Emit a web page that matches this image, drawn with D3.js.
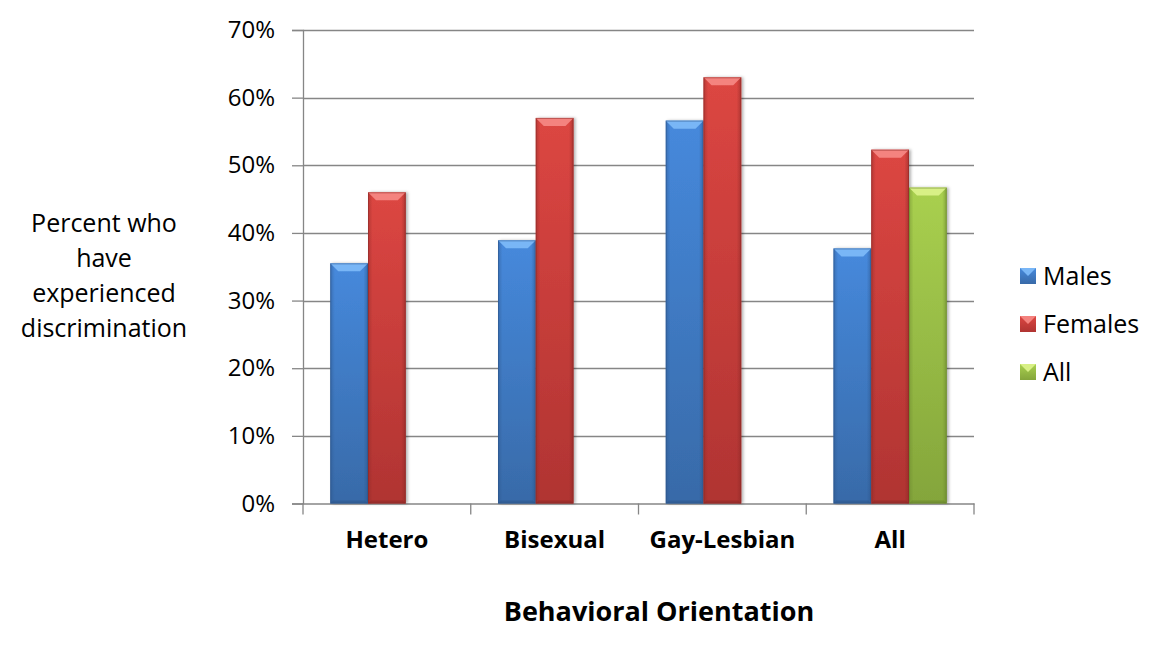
<!DOCTYPE html>
<html>
<head>
<meta charset="utf-8">
<script src="https://cdn.jsdelivr.net/npm/d3@7"></script>
<style>
body { margin: 0; background: #fff; }
svg { font-family: "Open Sans", "Noto Sans", sans-serif; }
</style>
</head>
<body>
<svg width="1162" height="650"></svg>
<script>
const categories = ["Hetero", "Bisexual", "Gay-Lesbian", "All"];
const seriesNames = ["Males", "Females", "All"];
const males = [0.355, 0.389, 0.566, 0.377];
const females = [0.46, 0.57, 0.63, 0.523];
const allValues = [null, null, null, 0.467];
const yTicks = [0, 0.1, 0.2, 0.3, 0.4, 0.5, 0.6, 0.7];

const svg = d3.select("svg");
const plotLeft = 303, plotRight = 974, plotTop = 30, plotBottom = 503.5;

const x0 = d3.scaleBand().domain(categories).range([plotLeft, plotRight])
  .paddingInner(0.325).paddingOuter(0.1625);
const x1 = d3.scaleBand().domain(seriesNames).range([0, x0.bandwidth()]);
const y = d3.scaleLinear().domain([0, 0.7]).range([plotBottom, plotTop]);

// colours: [top, bottom, bevel, edge]
const colors = {
  Males: ["#4689dc", "#386aa8", "#79b6f6", "#2c5488"],
  Females: ["#dc4642", "#b03432", "#f4837f", "#8a2826"],
  All: ["#a9d04f", "#84a53b", "#d8f086", "#66822c"]
};

const defs = svg.append("defs");
seriesNames.forEach((s, i) => {
  const g = defs.append("linearGradient").attr("id", "g" + i)
    .attr("x1", 0).attr("y1", 0).attr("x2", 0).attr("y2", 1);
  g.append("stop").attr("offset", "0%").attr("stop-color", colors[s][0]);
  g.append("stop").attr("offset", "100%").attr("stop-color", colors[s][1]);
  const h = defs.append("linearGradient").attr("id", "h" + i)
    .attr("x1", 0).attr("y1", 0).attr("x2", 1).attr("y2", 0);
  h.append("stop").attr("offset", "0%").attr("stop-color", colors[s][3]).attr("stop-opacity", 0.45);
  h.append("stop").attr("offset", "12%").attr("stop-color", colors[s][3]).attr("stop-opacity", 0);
  h.append("stop").attr("offset", "88%").attr("stop-color", colors[s][3]).attr("stop-opacity", 0);
  h.append("stop").attr("offset", "100%").attr("stop-color", colors[s][3]).attr("stop-opacity", 0.55);
});
defs.append("filter").attr("id", "shadow").attr("x", "-20%").attr("width", "150%")
  .append("feDropShadow").attr("dx", 2).attr("dy", 0).attr("stdDeviation", 1.5)
  .attr("flood-color", "#000").attr("flood-opacity", 0.3);

// gridlines
svg.append("g").selectAll("line").data(yTicks.slice(1)).join("line")
  .attr("x1", plotLeft).attr("x2", plotRight)
  .attr("y1", d => Math.round(y(d)) + 0.5).attr("y2", d => Math.round(y(d)) + 0.5)
  .attr("stroke", "#868686").attr("stroke-width", 1.3);

// y axis
const yAxis = svg.append("g").attr("transform", `translate(${plotLeft},0)`)
  .call(d3.axisLeft(y).tickValues(yTicks).tickFormat(d3.format(".0%")).tickSizeOuter(0).tickSize(11).tickPadding(17));
yAxis.select(".domain").attr("stroke", "#868686").attr("stroke-width", 1.3);
yAxis.selectAll(".tick line").attr("stroke", "#868686").attr("stroke-width", 1.3);
yAxis.selectAll("text").attr("font-size", 24).attr("fill", "#000")
  .attr("font-family", "'Open Sans', sans-serif");

// x axis
const xAxis = svg.append("g").attr("transform", `translate(0,${plotBottom})`)
  .call(d3.axisBottom(x0).tickSize(0).tickSizeOuter(0).tickPadding(27));
xAxis.select(".domain").attr("stroke", "#868686").attr("stroke-width", 1.3);
xAxis.selectAll("text").attr("font-size", 24).attr("font-weight", "bold").attr("fill", "#000")
  .attr("font-family", "'Open Sans', sans-serif");
const step = x0.step();
svg.append("g").selectAll("line").data(d3.range(categories.length + 1)).join("line")
  .attr("x1", i => plotLeft + i * step).attr("x2", i => plotLeft + i * step)
  .attr("y1", plotBottom).attr("y2", plotBottom + 11)
  .attr("stroke", "#868686").attr("stroke-width", 1.3);

// bars
const seriesData = [males, females, allValues];
const bars = [];
seriesData.forEach((vals, si) => {
  vals.forEach((v, ci) => {
    if (v != null) bars.push({ cat: categories[ci], s: seriesNames[si], si: si, v: v });
  });
});

const barG = svg.append("g").selectAll("g").data(bars).join("g");
barG.append("rect")
  .attr("x", d => x0(d.cat) + x1(d.s))
  .attr("y", d => y(d.v))
  .attr("width", x1.bandwidth())
  .attr("height", d => y(0) - y(d.v))
  .attr("fill", d => `url(#g${d.si})`)
  .attr("filter", "url(#shadow)");
barG.append("rect")
  .attr("x", d => x0(d.cat) + x1(d.s))
  .attr("y", d => y(d.v))
  .attr("width", x1.bandwidth())
  .attr("height", d => y(0) - y(d.v))
  .attr("fill", d => `url(#h${d.si})`);
// top bevel
barG.append("path")
  .attr("d", d => {
    const bx = x0(d.cat) + x1(d.s), by = y(d.v), w = x1.bandwidth(), b = 8;
    return `M${bx},${by}L${bx + w},${by}L${bx + w - b},${by + b}L${bx + b},${by + b}Z`;
  })
  .attr("fill", d => colors[d.s][2]);
// bottom darker edge
barG.append("path")
  .attr("d", d => {
    const bx = x0(d.cat) + x1(d.s), by = y(0), w = x1.bandwidth(), b = 3;
    return `M${bx},${by}L${bx + w},${by}L${bx + w - b},${by - b}L${bx + b},${by - b}Z`;
  })
  .attr("fill", d => colors[d.s][3]).attr("opacity", 0.5);
barG.append("rect")
  .attr("x", d => x0(d.cat) + x1(d.s) + 0.5)
  .attr("y", d => y(d.v) + 0.5)
  .attr("width", x1.bandwidth() - 1)
  .attr("height", d => y(0) - y(d.v) - 1)
  .attr("fill", "none")
  .attr("stroke", d => colors[d.s][3]).attr("stroke-opacity", 0.5).attr("stroke-width", 1);

// axis titles
svg.append("text").attr("x", 659).attr("y", 621)
  .attr("text-anchor", "middle").attr("font-size", 27).attr("font-weight", "bold")
  .text("Behavioral Orientation");

const yTitle = ["Percent who", "have", "experienced", "discrimination"];
svg.append("g").selectAll("text").data(yTitle).join("text")
  .attr("x", 104).attr("y", (d, i) => 232 + i * 35)
  .attr("text-anchor", "middle").attr("font-size", 25)
  .text(d => d);

// legend
const leg = svg.append("g").selectAll("g").data(seriesNames).join("g")
  .attr("transform", (d, i) => `translate(1020,${276 + i * 48})`);
leg.append("rect").attr("x", 0).attr("y", -8).attr("width", 16).attr("height", 16)
  .attr("fill", (d, i) => `url(#g${i})`);
leg.append("path").attr("d", "M0,-8L16,-8L8,0Z").attr("fill", d => colors[d][2]);
leg.append("text").attr("x", 23).attr("y", 9).attr("font-size", 25).text(d => d);
</script>
</body>
</html>
